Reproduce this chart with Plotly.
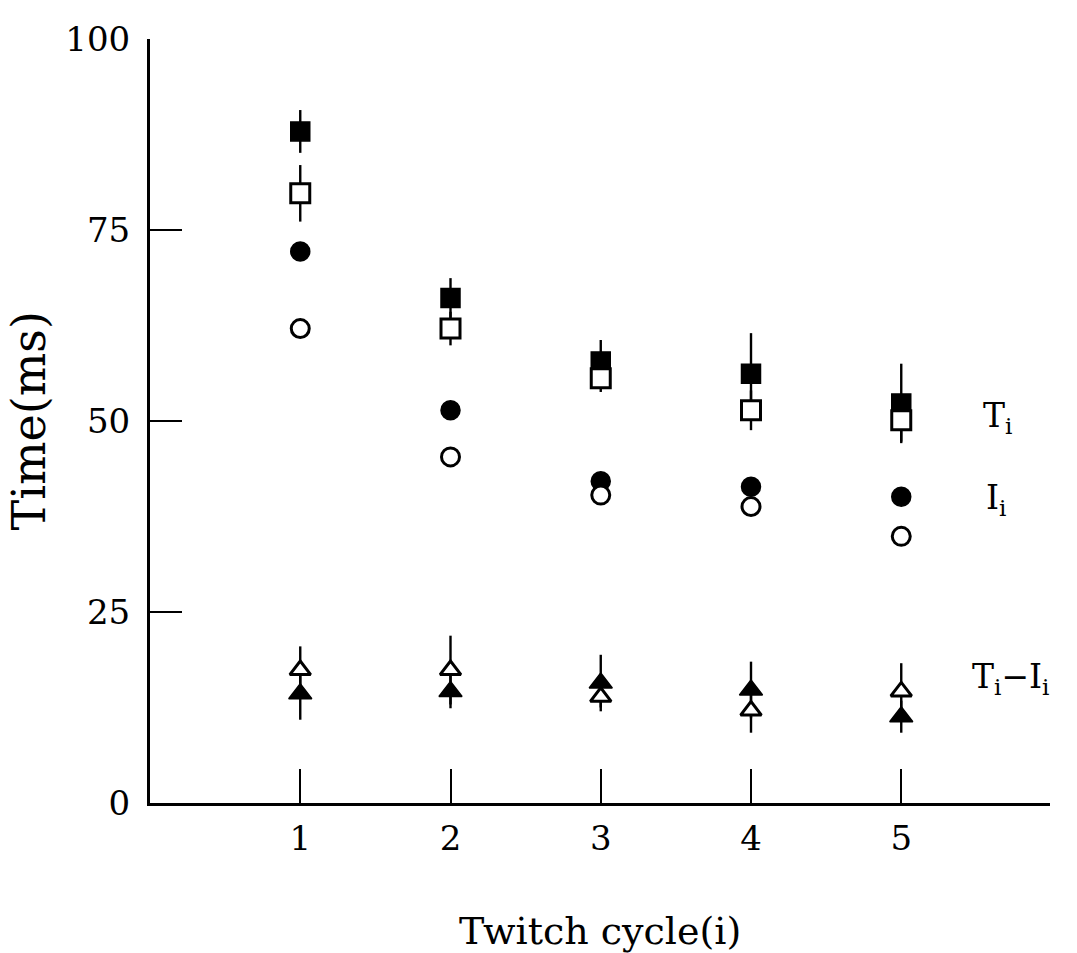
import plotly.graph_objects as go

cycles = [1, 2, 3, 4, 5]

# Ti (total twitch time) - two conditions
ti_filled = [87.9, 66.1, 57.8, 56.2, 52.3]
ti_filled_err = [2.8, 2.6, 2.8, 5.3, 5.2]
ti_open = [79.8, 62.1, 55.6, 51.4, 50.1]
ti_open_err = [3.7, 2.2, 1.8, 2.6, 2.8]

# Ii
ii_filled = [72.2, 51.4, 42.1, 41.4, 40.1]
ii_open = [62.1, 45.3, 40.3, 38.8, 34.9]

# Ti - Ii
d_filled = [14.3, 14.6, 15.7, 14.8, 11.3]
d_filled_err = [3.4, 2.2, 3.7, 3.7, 2.1]
d_open = [17.4, 17.4, 13.9, 12.1, 14.6]
d_open_err = [3.1, 4.5, 1.4, 2.9, 3.7]

y_ticks = [0, 25, 50, 75, 100]
x_ticks = [1, 2, 3, 4, 5]

FONT = "DejaVu Serif"
BLACK = "black"

fig = go.Figure()


def add(y, symbol, fill, err=None, size=18, lw=1):
    kw = {}
    if err is not None:
        kw["error_y"] = dict(type="data", array=err, visible=True,
                             color=BLACK, thickness=2.4, width=0)
    fig.add_trace(go.Scatter(
        x=cycles, y=y, mode="markers",
        marker=dict(symbol=symbol, size=size, color=fill,
                    line=dict(color=BLACK, width=lw)),
        showlegend=False, cliponaxis=False, **kw))


add(ti_filled, "square", BLACK, ti_filled_err, 19, 1.5)
add(ti_open, "square", "white", ti_open_err, 19, 3)
add(ii_filled, "circle", BLACK, None, 19, 1.5)
add(ii_open, "circle", "white", None, 18, 3)
add(d_filled, "triangle-up", BLACK, d_filled_err, 20, 1.5)
add(d_open, "triangle-up", "white", d_open_err, 18, 3)

labels = [("T<sub>i</sub>", 5.53, 50.4), ("I<sub>i</sub>", 5.55, 39.7),
          ("T<sub>i</sub>\u2212I<sub>i</sub>", 5.46, 16.3)]
for txt, lx, ly in labels:
    fig.add_annotation(x=lx, y=ly, text=txt, showarrow=False, xanchor="left",
                       yanchor="middle", font=dict(family=FONT, size=33, color=BLACK))

fig.add_annotation(xref="paper", yref="paper", x=0.5, y=-0.168, text="Twitch cycle(i)",
                   showarrow=False, xanchor="center", yanchor="middle",
                   font=dict(family=FONT, size=38, color=BLACK))
fig.add_annotation(xref="paper", yref="paper", x=-0.135, y=0.5, text="Time(ms)",
                   textangle=-90, showarrow=False, xanchor="center", yanchor="middle",
                   font=dict(family=FONT, size=46, color=BLACK))

fig.update_xaxes(range=[0, 5.99], tickvals=x_ticks, ticktext=[str(v) for v in x_ticks],
                 ticks="inside", ticklen=34, tickwidth=2, tickcolor=BLACK,
                 showline=True, linecolor=BLACK, linewidth=2.5, showgrid=False,
                 zeroline=False, ticklabelstandoff=3,
                 tickfont=dict(family=FONT, size=34, color=BLACK))
fig.update_yaxes(range=[0, 100], tickvals=y_ticks, ticktext=[str(v) for v in y_ticks],
                 ticks="inside", ticklen=32, tickwidth=2, tickcolor=BLACK,
                 showline=True, linecolor=BLACK, linewidth=3, showgrid=False,
                 zeroline=False, ticklabelstandoff=10,
                 tickfont=dict(family=FONT, size=34, color=BLACK))

fig.update_layout(width=1077, height=953, plot_bgcolor="white", paper_bgcolor="white",
                  margin=dict(l=150, r=27, t=39, b=150, autoexpand=False))

fig.write_html("out.html")
